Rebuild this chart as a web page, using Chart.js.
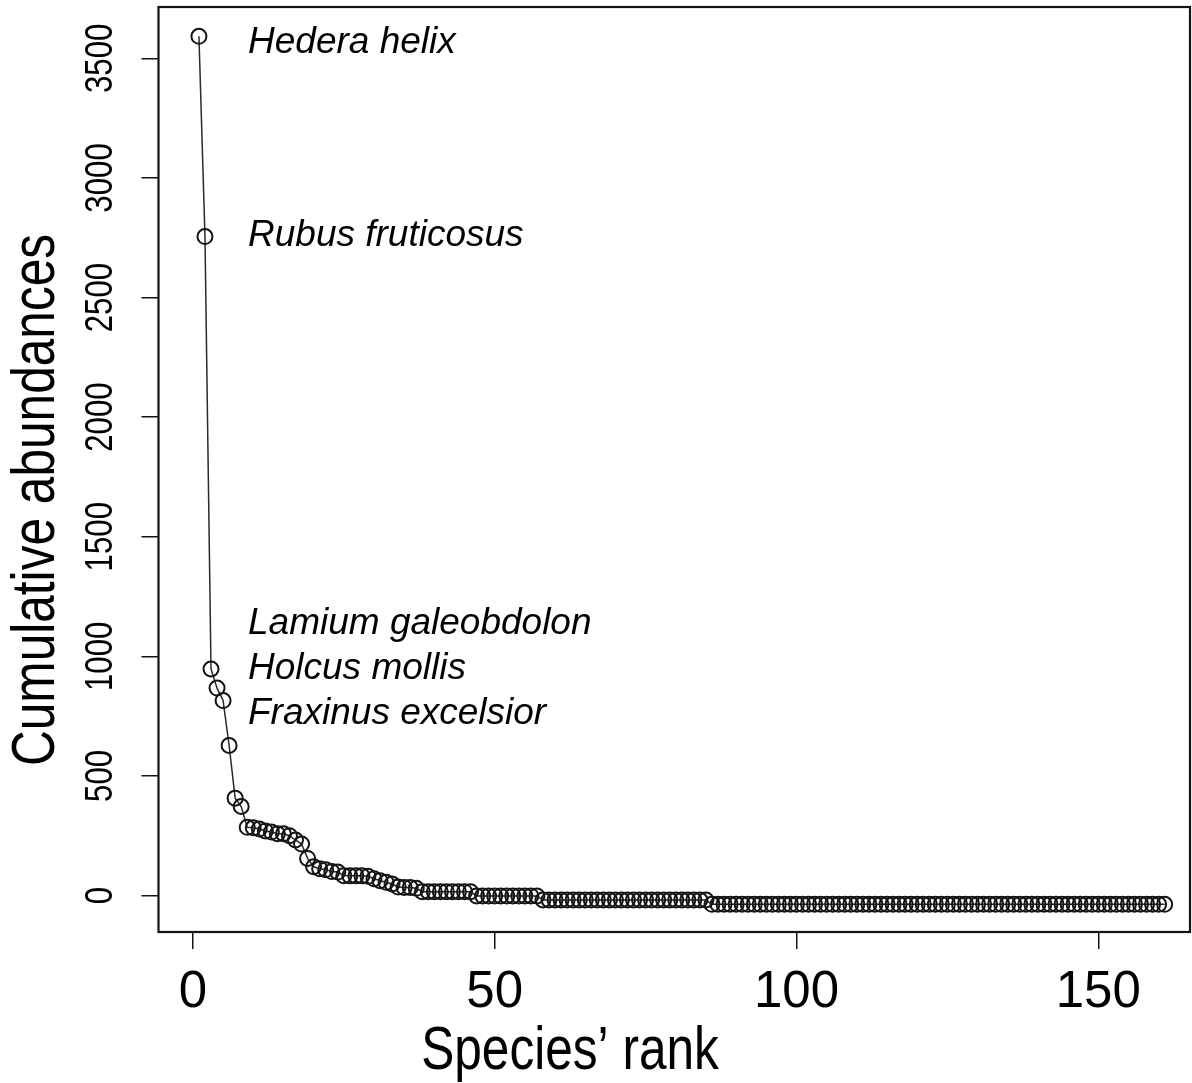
<!DOCTYPE html>
<html>
<head>
<meta charset="utf-8">
<script src="https://cdn.jsdelivr.net/npm/chart.js@4.4.0/dist/chart.umd.min.js"></script>
<style>
  html, body { margin: 0; padding: 0; background: #fff; }
  canvas { display: block; }
</style>
</head>
<body>
<canvas id="rank" width="1192" height="1083"></canvas>
<script>
// cumulative abundance per species, ordered by rank
const abundance = [
  3592, 2755, 947, 867, 815, 627, 407, 372, 285, 283,
  278, 270, 265, 258, 258, 250, 232, 215, 155, 120,
  112, 108, 100, 98, 83, 82, 82, 82, 80, 70,
  62, 55, 48, 35, 33, 33, 30, 16, 16, 16,
  16, 16, 16, 16, 16, 16, -2, -2, -2, -2,
  -2, -2, -2, -2, -2, -2, -2, -19, -19, -19,
  -19, -19, -19, -19, -19, -19, -19, -19, -19, -19,
  -19, -19, -19, -19, -19, -19, -19, -19, -19, -19,
  -19, -19, -19, -19, -19, -37, -37, -37, -37, -37,
  -37, -37, -37, -37, -37, -37, -37, -37, -37, -37,
  -37, -37, -37, -37, -37, -37, -37, -37, -37, -37,
  -37, -37, -37, -37, -37, -37, -37, -37, -37, -37,
  -37, -37, -37, -37, -37, -37, -37, -37, -37, -37,
  -37, -37, -37, -37, -37, -37, -37, -37, -37, -37,
  -37, -37, -37, -37, -37, -37, -37, -37, -37, -37,
  -37, -37, -37, -37, -37, -37, -37, -37, -37, -37,
  -37
];
const ranks = abundance.map((_, i) => i + 1);

const xTicks = [0, 50, 100, 150];
const yTicks = [0, 500, 1000, 1500, 2000, 2500, 3000, 3500];

const speciesNames = ["Hedera helix", "Rubus fruticosus", "Lamium galeobdolon", "Holcus mollis", "Fraxinus excelsior"];
const speciesY = [43, 236, 624, 669, 714];   // label centres, px

const xTitle = "Species\u2019 rank";
const yTitle = "Cumulative abundances";

const INK = "#141414";
const SANS = "'Liberation Sans', Arial, sans-serif";

// keep the plot box exactly where it sits in the figure
function pin(s){ s.paddingTop = 0; s.paddingBottom = 0; s.paddingLeft = 0; s.paddingRight = 0; }

const decor = {
  id: "decor",
  afterDraw(chart){
    const {ctx, chartArea:a} = chart;
    const ys = chart.scales.y;
    ctx.save();
    ctx.strokeStyle = INK;
    ctx.lineWidth = 2.2;
    ctx.strokeRect(a.left, a.top, a.right - a.left, a.bottom - a.top);

    ctx.fillStyle = "#000";
    ctx.font = "italic 37px " + SANS;
    ctx.textAlign = "left";
    ctx.textBaseline = "middle";
    speciesNames.forEach((s, i) => ctx.fillText(s, 248, speciesY[i]));

    ctx.textAlign = "center";
    // y tick labels: taken from the y scale, set condensed like in the figure
    ctx.font = "39px " + SANS;
    ys.ticks.forEach(t => {
      ctx.save();
      ctx.translate(100, ys.getPixelForValue(t.value));
      ctx.rotate(-Math.PI / 2);
      ctx.scale(0.8, 1);
      ctx.fillText(String(t.value), 0, 1);
      ctx.restore();
    });

    // axis titles are set in a condensed face in the figure
    ctx.font = "62px " + SANS;
    ctx.save();
    ctx.translate(570, 1052);
    ctx.scale(0.8, 1);
    ctx.fillText(xTitle, 0, 0);
    ctx.restore();
    ctx.translate(37, 500);
    ctx.rotate(-Math.PI / 2);
    ctx.scale(0.8, 1);
    ctx.fillText(yTitle, 0, 0);
    ctx.restore();
  }
};

new Chart(document.getElementById("rank"), {
  type: "line",
  data: {
    datasets: [{
      data: ranks.map((r, i) => ({x: r, y: abundance[i]})),
      borderColor: "#2a2a2a",
      borderWidth: 1.5,
      tension: 0,
      pointRadius: 7.5,
      pointBorderWidth: 2,
      pointBorderColor: INK,
      pointBackgroundColor: "rgba(0,0,0,0)",
      clip: false
    }]
  },
  options: {
    responsive: false,
    animation: false,
    events: [],
    layout: { autoPadding: false, padding: { top: 7, right: 2, left: 0, bottom: 0 } },
    plugins: { legend: { display: false }, tooltip: { enabled: false } },
    scales: {
      x: {
        type: "linear",
        min: -5.7, max: 165.2,
        afterBuildTicks: s => { s.ticks = xTicks.map(v => ({value: v})); },
        afterFit: s => { s.height = 151; pin(s); },
        grid: { drawOnChartArea: false, tickLength: 17, color: INK, lineWidth: 1.5 },
        border: { display: false },
        ticks: { color: "#000", padding: 13, maxRotation: 0, font: { family: SANS, size: 51 },
                 callback: v => String(v) }
      },
      y: {
        min: -152.7, max: 3714.7,
        afterBuildTicks: s => { s.ticks = yTicks.map(v => ({value: v})); },
        afterFit: s => { s.width = 158.5; pin(s); },
        grid: { drawOnChartArea: false, tickLength: 17, color: INK, lineWidth: 1.5 },
        border: { display: false },
        ticks: { display: false }
      }
    }
  },
  plugins: [decor]
});
</script>
</body>
</html>
